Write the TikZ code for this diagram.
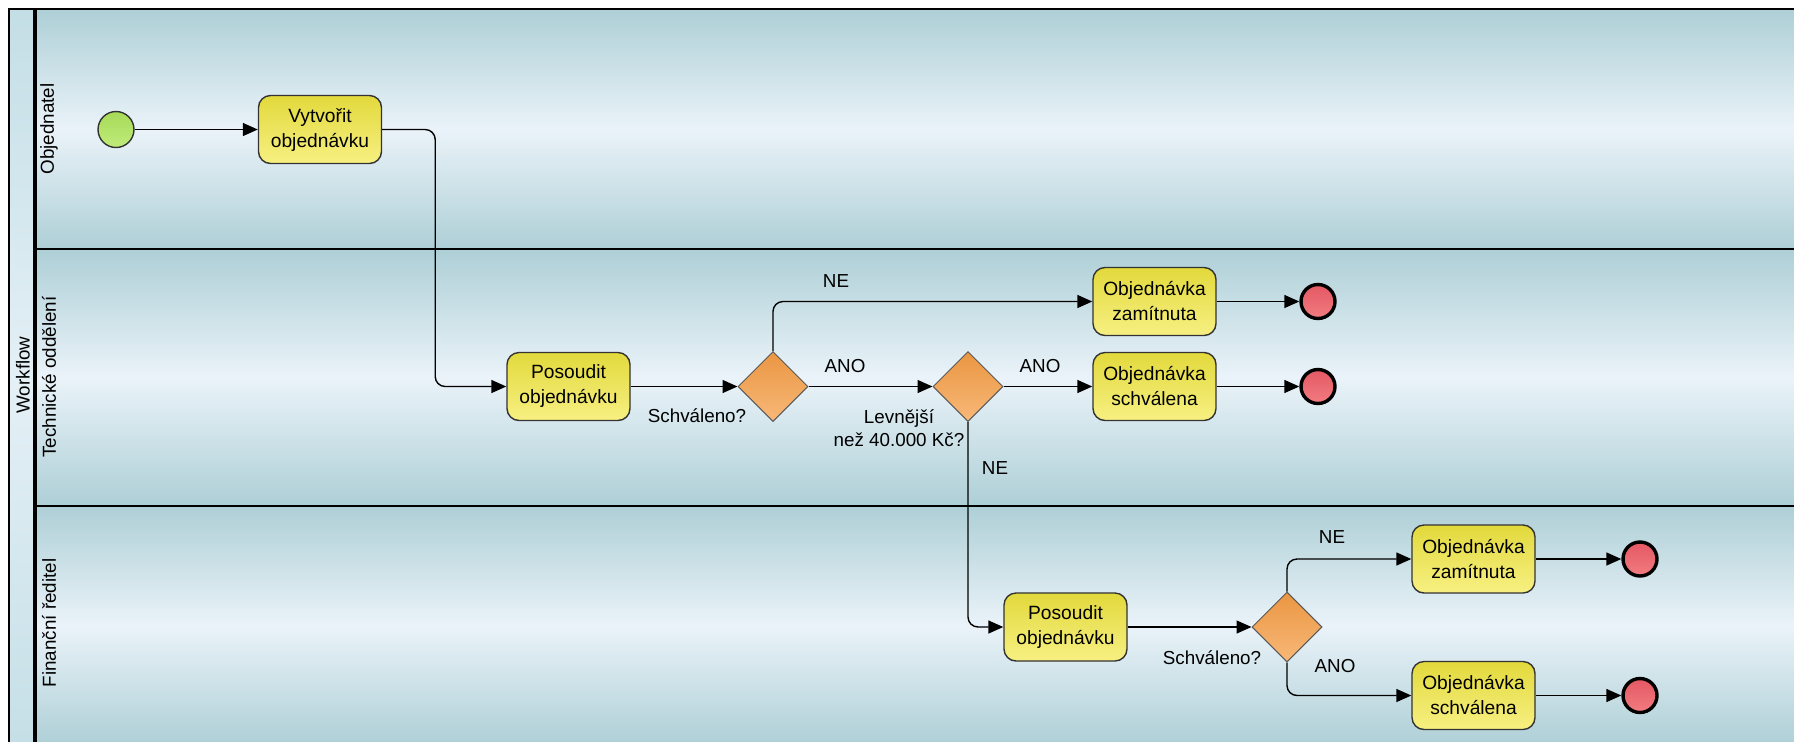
\documentclass[tikz,border=0pt]{standalone}
\usepackage{fontspec}
\setmainfont{Liberation Sans}
\usetikzlibrary{shapes.geometric,arrows.meta}
\definecolor{lane}{RGB}{174,207,214}
\definecolor{lanemid}{RGB}{234,243,249}
\definecolor{head}{RGB}{196,222,230}
\definecolor{headmid}{RGB}{228,240,246}
\definecolor{tasktop}{RGB}{226,217,60}
\definecolor{taskbot}{RGB}{247,240,130}
\definecolor{gatetop}{RGB}{234,150,66}
\definecolor{gatebot}{RGB}{248,184,120}
\definecolor{starttop}{RGB}{166,218,88}
\definecolor{startbot}{RGB}{192,236,122}
\definecolor{endtop}{RGB}{228,88,100}
\definecolor{endbot}{RGB}{242,124,128}

\tikzset{
  task/.style={draw=black!80, line width=0.7pt, rounded corners=6pt,
    top color=tasktop, bottom color=taskbot, minimum width=61.5pt,
    minimum height=34pt, inner sep=0pt, align=center,
    font=\fontsize{9.6}{12.5}\selectfont},
  gate/.style={diamond, draw=black!65, line width=0.5pt, top color=gatetop,
    bottom color=gatebot, minimum width=35pt, minimum height=35pt, inner sep=0pt},
  startev/.style={circle, draw=black!80, line width=0.7pt, top color=starttop,
    bottom color=startbot, minimum size=18pt, inner sep=0pt},
  endev/.style={circle, draw=black, line width=1.7pt, top color=endtop,
    bottom color=endbot, minimum size=17pt, inner sep=0pt},
  flow/.style={line width=0.7pt, -{Triangle[length=7.5pt,width=6.5pt]}},
  lbl/.style={font=\fontsize{9.4}{11.5}\selectfont, align=center, inner sep=0pt},
  lanename/.style={lbl, rotate=90}
}

\begin{document}
\begin{tikzpicture}[x=0.5pt, y=-0.5pt]
\useasboundingbox (0,0) rectangle (1794,741);
\clip (0,0) rectangle (1794,741);
\fill[white] (0,0) rectangle (1794,741);

% pool and lanes
\shade[top color=lane, bottom color=lane, middle color=lanemid] (35,9) rectangle (1800,249);
\shade[top color=lane, bottom color=lane, middle color=lanemid] (35,249) rectangle (1800,506);
\shade[top color=lane, bottom color=lane, middle color=lanemid] (35,506) rectangle (1800,745);
\shade[top color=head, bottom color=head, middle color=headmid] (9,9) rectangle (35,760);
\draw[line width=0.8pt] (9,760) -- (9,9) -- (1800,9);
\draw[line width=1.6pt] (35,9) -- (35,760);
\draw[line width=1pt] (35,249) -- (1800,249);
\draw[line width=1pt] (35,506) -- (1800,506);

\node[lanename] (pool) at (23,375) {Workflow};
\node[lanename] (objednatel) at (49,129) {Objednatel};
\node[lanename] (technicke) at (49,377) {Technické oddělení};
\node[lanename] (financni) at (49,623) {Finanční ředitel};

% lane 1
\node[startev] (start) at (116,129.5) {};
\node[task] (vytvorit) at (320,129.5) {Vytvořit\\objednávku};

% lane 2
\node[task] (posoudit) at (568.5,386.5) {Posoudit\\objednávku};
\node[gate] (schvaleno) at (773,386.5) {};
\node[gate] (levnejsi) at (968,386.5) {};
\node[task] (zamitnuta) at (1154.5,301.5) {Objednávka\\zamítnuta};
\node[task] (schvalena) at (1154.5,386.5) {Objednávka\\schválena};
\node[endev] (konec1) at (1318,301.5) {};
\node[endev] (konec2) at (1318,386.5) {};

% lane 3
\node[task] (posouditfr) at (1065.5,627) {Posoudit\\objednávku};
\node[gate] (schvalenofr) at (1287,627) {};
\node[task] (zamitnutafr) at (1473.5,559) {Objednávka\\zamítnuta};
\node[task] (schvalenafr) at (1473.5,695.5) {Objednávka\\schválena};
\node[endev] (konec3) at (1640,559) {};
\node[endev] (konec4) at (1640,695.5) {};

% labels
\node[lbl] (q1) at (697,416) {Schváleno?};
\node[lbl] (q2) at (899,428) {Levnější\\než 40.000 Kč?};
\node[lbl] (q3) at (1212,658) {Schváleno?};
\node[lbl] (ne1) at (836,281) {NE};
\node[lbl] (ano1) at (845,366) {ANO};
\node[lbl] (ano2) at (1040,366) {ANO};
\node[lbl] (ne2) at (995,468) {NE};
\node[lbl] (ne3) at (1332,537) {NE};
\node[lbl] (ano3) at (1335,666) {ANO};

% flows
\draw[flow] (start) -- (vytvorit);
\draw[flow, rounded corners=5pt] (vytvorit.east) -- ++(53,0) |- (posoudit.west);
\draw[flow] (posoudit) -- (schvaleno);
\draw[flow, rounded corners=5pt] (schvaleno.north) |- (zamitnuta.west);
\draw[flow] (schvaleno) -- (levnejsi);
\draw[flow] (levnejsi) -- (schvalena);
\draw[flow] (zamitnuta) -- (konec1);
\draw[flow] (schvalena) -- (konec2);
\draw[flow, rounded corners=5pt] (levnejsi.south) |- (posouditfr.west);
\draw[flow] (posouditfr) -- (schvalenofr);
\draw[flow, rounded corners=5pt] (schvalenofr.north) |- (zamitnutafr.west);
\draw[flow, rounded corners=5pt] (schvalenofr.south) |- (schvalenafr.west);
\draw[flow] (zamitnutafr) -- (konec3);
\draw[flow] (schvalenafr) -- (konec4);
\end{tikzpicture}
\end{document}
